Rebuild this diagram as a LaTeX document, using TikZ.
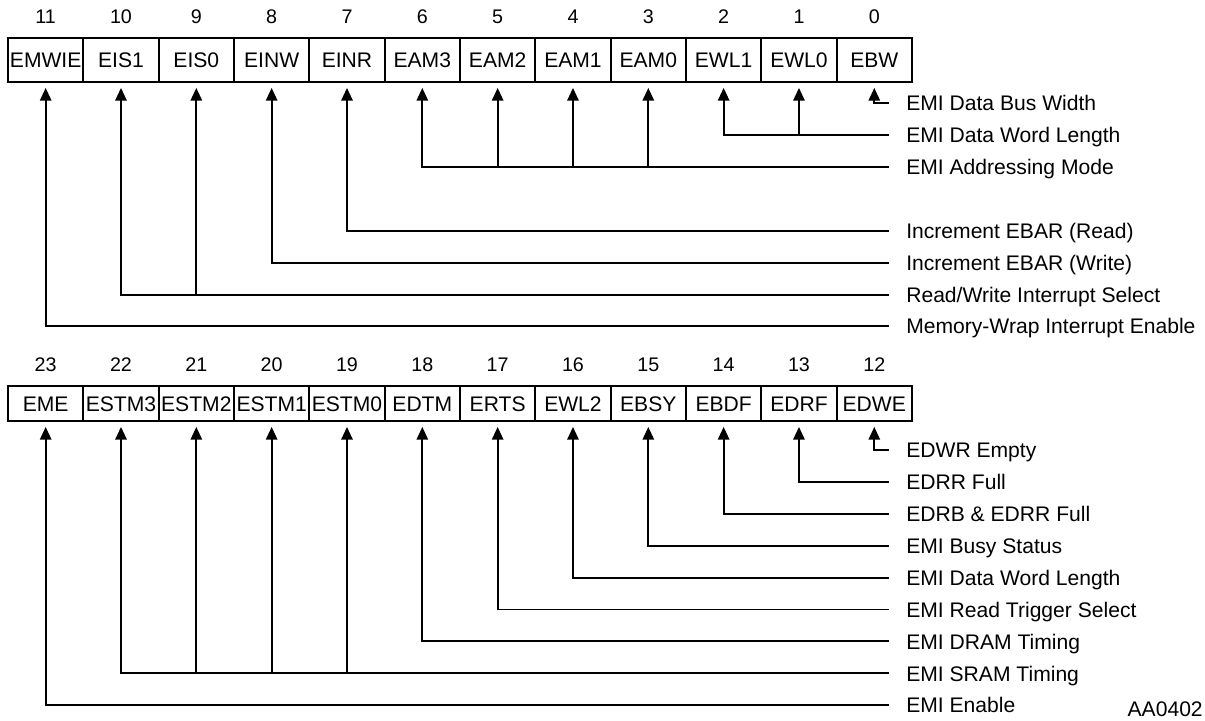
\documentclass[tikz,border=0pt]{standalone}
\usepackage{fontspec}
\setmainfont{Liberation Sans}
\usepackage{tikz}
\usetikzlibrary{arrows.meta,positioning,calc}

\begin{document}
\begin{tikzpicture}[x=0.025cm, y=-0.025cm,
    font=\fontsize{15}{18}\selectfont,
    cell/.style={draw, line width=1.4pt, inner sep=0pt, minimum width=1.883cm,
      text height=11pt, text depth=0pt},
    bitnum/.style={font=\fontsize{14}{16}\selectfont, inner sep=0pt},
    desc/.style={anchor=west, inner xsep=0.425cm, inner ysep=0pt,
      text height=11pt, text depth=0pt},
    wire/.style={draw, line width=1.4pt, {Triangle[length=9pt,width=8pt]}-,
      shorten <=3.5pt}]
  \useasboundingbox (0,0) rectangle (1205,721);
  % upper register, bits 11..0
  \foreach \name [count=\i from 0] in {EMWIE,EIS1,EIS0,EINW,EINR,EAM3,EAM2,EAM1,EAM0,EWL1,EWL0,EBW} {
    \pgfmathtruncatemacro\bit{11-\i}
    \node[cell, minimum height=1.1cm] (r\bit) at (45.67+75.33*\i, 60) {\name};
    \node[bitnum] at ([yshift=0.5cm]r\bit.north) {\bit};
  }
  % lower register, bits 23..12
  \foreach \name [count=\i from 0] in {EME,ESTM3,ESTM2,ESTM1,ESTM0,EDTM,ERTS,EWL2,EBSY,EBDF,EDRF,EDWE} {
    \pgfmathtruncatemacro\bit{23-\i}
    \node[cell, minimum height=0.875cm] (r\bit) at (45.67+75.33*\i, 403.5) {\name};
    \node[bitnum] at ([yshift=0.5cm]r\bit.north) {\bit};
  }
  % field descriptions
  \node[desc] (busw)    at (889,103) {EMI Data Bus Width};
  \node[desc] (wordlen) at (889,135) {EMI Data Word Length};
  \node[desc] (addr)    at (889,167) {EMI Addressing Mode};
  \node[desc] (incr)    at (889,231) {Increment EBAR (Read)};
  \node[desc] (incw)    at (889,263) {Increment EBAR (Write)};
  \node[desc] (intsel)  at (889,295) {Read/Write Interrupt Select};
  \node[desc] (wrapint) at (889,326) {Memory-Wrap Interrupt Enable};

  \node[desc] (wrempty) at (889,450.0) {EDWR Empty};
  \node[desc] (rrfull)  at (889,481.9) {EDRR Full};
  \node[desc] (rbfull)  at (889,513.8) {EDRB \& EDRR Full};
  \node[desc] (busy)    at (889,545.7) {EMI Busy Status};
  \node[desc] (wordlenb) at (889,577.6) {EMI Data Word Length};
  \node[desc] (trig)    at (889,609.5) {EMI Read Trigger Select};
  \node[desc] (dram)    at (889,641.4) {EMI DRAM Timing};
  \node[desc] (sram)    at (889,673.3) {EMI SRAM Timing};
  \node[desc] (enable)  at (889,705.2) {EMI Enable};

  \node[anchor=east, inner sep=0pt] (figid) at (1203,709) {AA0402};

  % upper connectors
  \draw[wire] (r0.south) |- (busw);
  \draw[wire] (r2.south) |- (wordlen);
  \draw[wire] (r1.south) -- (r1.south |- wordlen);
  \draw[wire] (r6.south) |- (addr);
  \foreach \b in {5,4,3}
    \draw[wire] (r\b.south) -- (r\b.south |- addr);
  \draw[wire] (r7.south) |- (incr);
  \draw[wire] (r8.south) |- (incw);
  \draw[wire] (r10.south) |- (intsel);
  \draw[wire] (r9.south) -- (r9.south |- intsel);
  \draw[wire] (r11.south) |- (wrapint);

  % lower connectors
  \draw[wire] (r12.south) |- (wrempty);
  \draw[wire] (r13.south) |- (rrfull);
  \draw[wire] (r14.south) |- (rbfull);
  \draw[wire] (r15.south) |- (busy);
  \draw[wire] (r16.south) |- (wordlenb);
  \draw[wire] (r17.south) |- (trig);
  \draw[wire] (r18.south) |- (dram);
  \draw[wire] (r22.south) |- (sram);
  \foreach \b in {21,20,19}
    \draw[wire] (r\b.south) -- (r\b.south |- sram);
  \draw[wire] (r23.south) |- (enable);
\end{tikzpicture}
\end{document}
